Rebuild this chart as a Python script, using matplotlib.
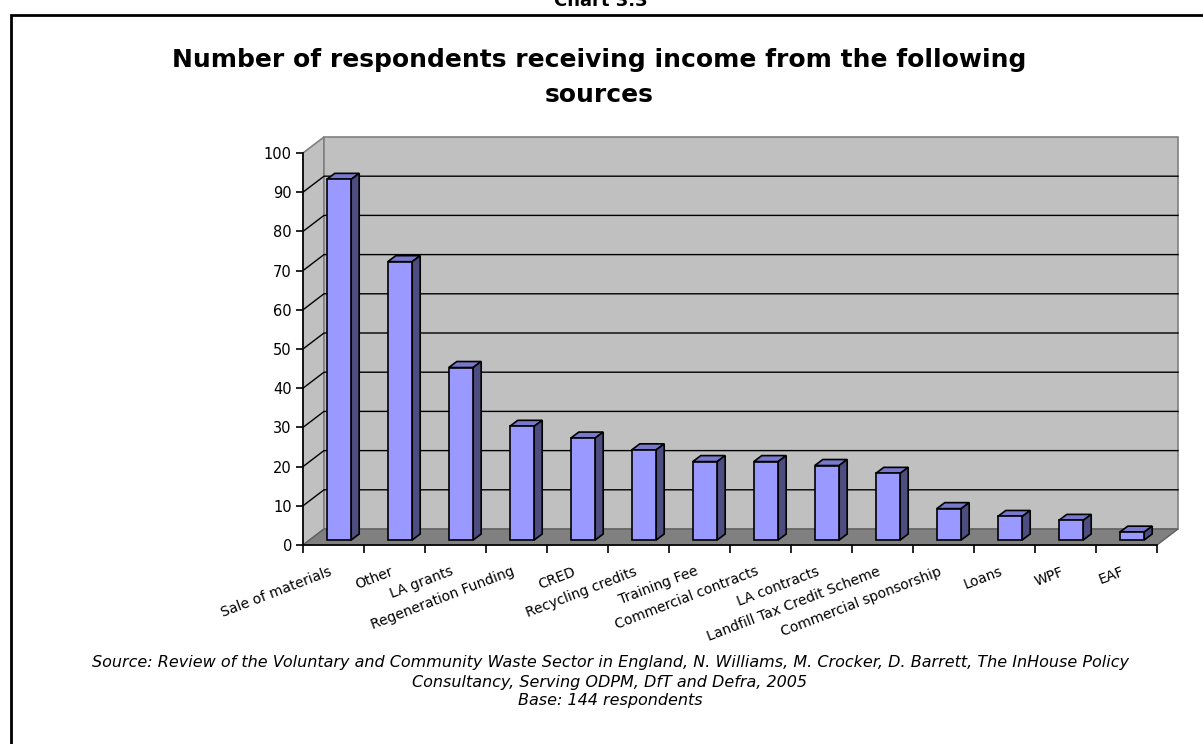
import matplotlib
matplotlib.use("Agg")
import matplotlib.pyplot as plt
from matplotlib.patches import Polygon, Rectangle
import numpy as np

categories = ["Sale of materials", "Other", "LA grants", "Regeneration Funding", "CRED",
              "Recycling credits", "Training Fee", "Commercial contracts", "LA contracts",
              "Landfill Tax Credit Scheme", "Commercial sponsorship", "Loans", "WPF", "EAF"]
respondents = [92, 71, 44, 29, 26, 23, 20, 20, 19, 17, 8, 6, 5, 2]
yticks = np.arange(0, 101, 10)

W, H = 1203, 744
fig = plt.figure(figsize=(W / 100, H / 100), dpi=100)
fig.patch.set_facecolor("white")

def fx(px):
    return px / W

def fy(py):
    return 1 - py / H

# outer frame
fig.patches.append(Rectangle((fx(11), fy(770)), fx(1230) - fx(11), fy(15) - fy(770),
                             transform=fig.transFigure, fill=False, lw=2, ec="black"))

fig.text(fx(601), fy(1), "Chart 3.3", ha="center", va="center", fontsize=13, fontweight="bold")
fig.text(fx(599), fy(60), "Number of respondents receiving income from the following",
         ha="center", va="center", fontsize=18, fontweight="bold")
fig.text(fx(599), fy(95), "sources", ha="center", va="center", fontsize=18, fontweight="bold")

fig.text(fx(610), fy(662), "Source: Review of the Voluntary and Community Waste Sector in England, "
         "N. Williams, M. Crocker, D. Barrett, The InHouse Policy",
         ha="center", va="center", fontsize=11.5, style="italic")
fig.text(fx(610), fy(682), "Consultancy, Serving ODPM, DfT and Defra, 2005",
         ha="center", va="center", fontsize=11.5, style="italic")
fig.text(fx(610), fy(701), "Base: 144 respondents", ha="center", va="center", fontsize=11.5, style="italic")

ax = fig.add_axes([fx(303), fy(545), fx(1157) - fx(303), fy(153) - fy(545)])
ax.set_facecolor("none")
n = len(categories)
ax.set_xlim(0, n)
ax.set_ylim(0, 100)

# 3d depth of the walls, in data units
DX, DY = 21 / 61, 16 / 3.92
wall_c = "#c0c0c0"
edge_c = "#808080"

# side wall, back wall, floor
ax.add_patch(Polygon([(0, 0), (DX, DY), (DX, 100 + DY), (0, 100)], closed=True,
                     fc=wall_c, ec=edge_c, lw=1.2, clip_on=False, zorder=0))
ax.add_patch(Polygon([(DX, DY), (n + DX, DY), (n + DX, 100 + DY), (DX, 100 + DY)], closed=True,
                     fc=wall_c, ec=edge_c, lw=1.2, clip_on=False, zorder=0))
ax.add_patch(Polygon([(0, 0), (n, 0), (n + DX, DY), (DX, DY)], closed=True,
                     fc="#808080", ec="#606060", lw=1, clip_on=False, zorder=1))

for t in yticks[1:-1]:
    ax.plot([0, DX, n + DX], [t, t + DY, t + DY], color="black", lw=1, clip_on=False, zorder=1)

# bars with 3d faces
bw = 0.4
f = 5 / 16
bdx, bdy = 8 / 61, 6 / 3.92
base = f * DY
xs = np.arange(n) + 0.39
front_c, top_c, side_c = "#9999ff", "#7878cc", "#4d4d80"
ax.bar(xs, respondents, width=bw, bottom=base, align="edge", color=front_c,
       edgecolor="black", linewidth=1.2, zorder=4, clip_on=False)
for x0, v in zip(xs, respondents):
    top = base + v
    ax.add_patch(Polygon([(x0, top), (x0 + bw, top), (x0 + bw + bdx, top + bdy), (x0 + bdx, top + bdy)],
                         closed=True, fc=top_c, ec="black", lw=1.2, clip_on=False, zorder=3))
    ax.add_patch(Polygon([(x0 + bw, base), (x0 + bw + bdx, base + bdy), (x0 + bw + bdx, top + bdy), (x0 + bw, top)],
                         closed=True, fc=side_c, ec="black", lw=1.2, clip_on=False, zorder=3))

for s in ["top", "right"]:
    ax.spines[s].set_visible(False)
for s in ["left", "bottom"]:
    ax.spines[s].set_color("black")
    ax.spines[s].set_linewidth(1.2)
    ax.spines[s].set_zorder(5)

ax.set_yticks(yticks)
ax.tick_params(axis="y", length=5, width=1.2, labelsize=10.5, pad=3)
ax.set_xticks(np.arange(n + 1))
ax.set_xticklabels([])
ax.tick_params(axis="x", which="major", length=6, width=1.2)
ax.set_xticks(np.arange(n) + 0.42, minor=True)
ax.set_xticklabels(categories, minor=True, rotation=21, ha="right", va="top",
                   rotation_mode="anchor", fontsize=10)
ax.tick_params(axis="x", which="minor", length=0, pad=14)

fig.savefig("out.png", dpi=100)
